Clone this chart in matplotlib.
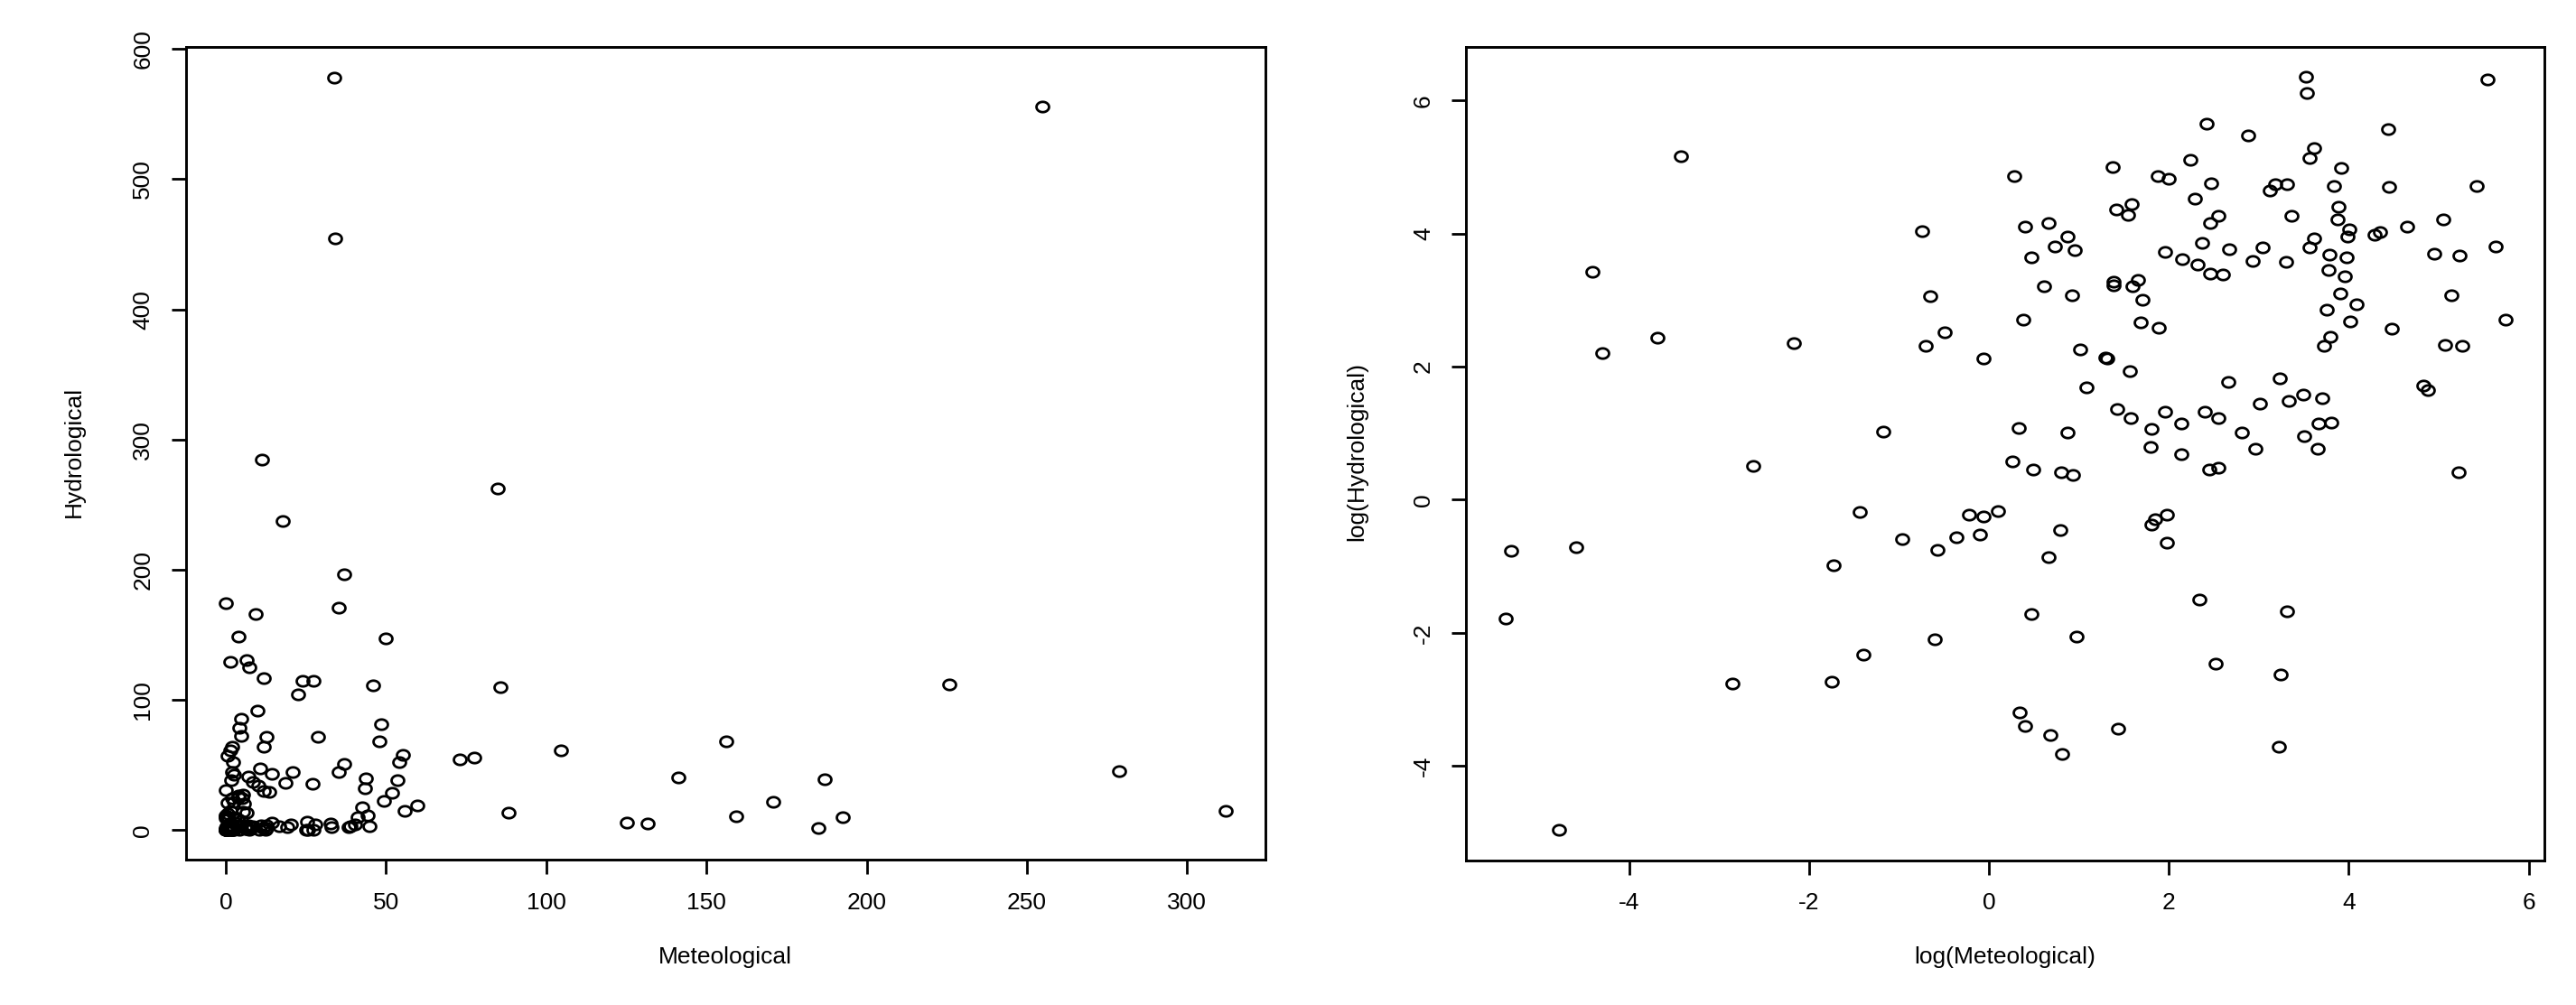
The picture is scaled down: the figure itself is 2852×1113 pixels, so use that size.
import numpy as np
import matplotlib
matplotlib.use("Agg")
from matplotlib import pyplot as plt
from matplotlib.path import Path

plt.rcParams['font.family'] = ['Liberation Sans', 'DejaVu Sans']
plt.rcParams['axes.unicode_minus'] = False

# log values; the left panel shows the same points untransformed
log_meteo = [
    -4.41, -4.30, -3.69,
    -3.42, -0.74, -0.65, -0.49, -0.70, -2.17, -1.18,
    2.42, 2.88, 2.24, 1.37, 0.28, 1.88, 2.00, 2.47, 2.29, 1.59,
    1.41, 1.55, 2.55, 2.46, 0.40, 0.66, 0.87, 0.73, 0.95, 0.47,
    2.37, 2.67, 2.93, 1.96, 2.15, 2.32, 2.46, 2.60, 1.38, 1.38,
    1.66, 1.60, 0.61, 0.92, 1.71, 0.38, 1.69, 1.89, 1.01, -0.06,
    1.29, 1.31, 1.57, 1.08, 2.66, 3.01, 1.42, 1.58, 1.96, 2.40,
    2.55, 2.14, 1.81, 0.33, 0.87, 2.81, 1.80, 2.96, 2.14,
    3.52, 3.53, 5.54, 4.44, 3.61, 3.56, 3.91, 3.12, 3.18, 3.31,
    3.83, 4.45, 5.42, 3.88, 3.87, 3.36, 5.05, 4.65, 4.01, 3.99,
    4.29, 4.35, 3.61, 3.56, 3.04, 3.30, 3.78, 3.98, 4.95, 5.23,
    5.63, 3.77, 3.95, 3.90, 4.09, 5.14, 3.75, 4.02, 4.48, 5.743,
    3.79, 3.72, 5.07, 5.26, 3.23, 4.83, 4.88, 3.33, 3.49, 3.70,
    3.66, 3.80, 3.50, 3.65,
    -5.31, -4.59, -5.37, -4.78,
    -2.62, -1.44, -0.22, -0.96, -0.36, -0.57, -1.73, -0.60, -1.40, -2.85,
    -1.75,
    0.26, 0.49, 0.80, 0.93, 2.45, 2.55, -0.06, 0.10, -0.10, 0.79,
    0.66, 1.85, 1.81, 1.98, 1.98, 2.34, 0.47, 0.97, 2.52, 0.34,
    0.40, 0.68, 0.81, 1.43,
    5.22, 3.31, 3.24, 3.22,
]
log_hydro = [
    3.43, 2.20, 2.43,
    5.16, 4.04, 3.06, 2.52, 2.32, 2.35, 1.02,
    5.65, 5.47, 5.11, 5.00, 4.86, 4.87, 4.83, 4.76, 4.52, 4.45,
    4.36, 4.28, 4.27, 4.16, 4.11, 4.16, 3.96, 3.80, 3.75, 3.64,
    3.86, 3.76, 3.59, 3.72, 3.61, 3.53, 3.40, 3.38, 3.28, 3.22,
    3.30, 3.21, 3.21, 3.08, 3.00, 2.71, 2.66, 2.58, 2.26, 2.12,
    2.14, 2.12, 1.93, 1.69, 1.77, 1.44, 1.37, 1.23, 1.32, 1.32,
    1.23, 1.15, 1.07, 1.08, 1.01, 1.01, 0.79, 0.76, 0.68,
    6.36, 6.12, 6.32, 5.57, 5.28, 5.14, 4.99, 4.65, 4.74, 4.74,
    4.71, 4.70, 4.72, 4.40, 4.22, 4.27, 4.22, 4.11, 4.06, 3.96,
    3.99, 4.02, 3.93, 3.79, 3.79, 3.58, 3.69, 3.64, 3.70, 3.67,
    3.81, 3.46, 3.36, 3.10, 2.94, 3.08, 2.85, 2.68, 2.57, 2.71,
    2.45, 2.32, 2.33, 2.31, 1.83, 1.72, 1.65, 1.49, 1.58, 1.53,
    1.14, 1.16, 0.95, 0.76,
    -0.77, -0.72, -1.78, -4.96,
    0.51, -0.19, -0.23, -0.59, -0.56, -0.76, -0.98, -2.10, -2.33, -2.76,
    -2.74,
    0.57, 0.45, 0.42, 0.37, 0.45, 0.48, -0.25, -0.17, -0.53, -0.45,
    -0.86, -0.29, -0.38, -0.23, -0.64, -1.50, -1.72, -2.06, -2.46, -3.20,
    -3.40, -3.54, -3.82, -3.44,
    0.41, -1.68, -2.63, -3.71,
]

raw_xticks = [0, 50, 100, 150, 200, 250, 300]
raw_yticks = [0, 100, 200, 300, 400, 500, 600]
log_ticks = [-4, -2, 0, 2, 4, 6]

meteo = np.exp(log_meteo)
hydro = np.exp(log_hydro)

# R's pch=1 comes out a bit wider than tall
t = np.linspace(0, 2 * np.pi, 60)
ring = Path(np.column_stack([np.cos(t), 0.82 * np.sin(t)]), closed=True)

fig = plt.figure(figsize=(28.52, 11.13), dpi=100)
ax1 = fig.add_axes([0.0721, 0.1444, 0.4190, 0.8086])
ax2 = fig.add_axes([0.5692, 0.1440, 0.4184, 0.8095])


def style(ax, xticks, yticks, xlim, ylim):
    ax.set_xlim(*xlim)
    ax.set_ylim(*ylim)
    ax.set_xticks(xticks)
    ax.set_yticks(yticks)
    ax.set_xticklabels([str(v) for v in xticks])
    ax.set_yticklabels([str(v) for v in yticks], rotation=90, va='center')
    ax.tick_params(length=11.5, width=2, labelsize=19, color='black')
    ax.tick_params(axis='x', pad=14)
    ax.tick_params(axis='y', pad=14)
    for s in ax.spines.values():
        s.set_linewidth(2.1)


ax1.plot(meteo, hydro, linestyle='none', marker=ring, markersize=10,
         markerfacecolor='none', markeredgecolor='black', markeredgewidth=2.0)
style(ax1, raw_xticks, raw_yticks, (-12.5, 324.3), (-22.9, 601.4))

ax2.plot(log_meteo, log_hydro, linestyle='none', marker=ring, markersize=10,
         markerfacecolor='none', markeredgecolor='black', markeredgewidth=2.0)
style(ax2, log_ticks, log_ticks, (-5.81, 6.17), (-5.42, 6.81))

fig.text(803 / 2852, 1 - 1060 / 1113, "Meteological", ha='center', va='center', fontsize=19)
fig.text(82 / 2852, 1 - 500 / 1113, "Hydrological", ha='center', va='center', rotation=90, fontsize=19)
fig.text(2220 / 2852, 1 - 1060 / 1113, "log(Meteological)", ha='center', va='center', fontsize=19)
fig.text(1502 / 2852, 1 - 500 / 1113, "log(Hydrological)", ha='center', va='center', rotation=90, fontsize=19)

fig.savefig("out.png", dpi=100, facecolor='white')
